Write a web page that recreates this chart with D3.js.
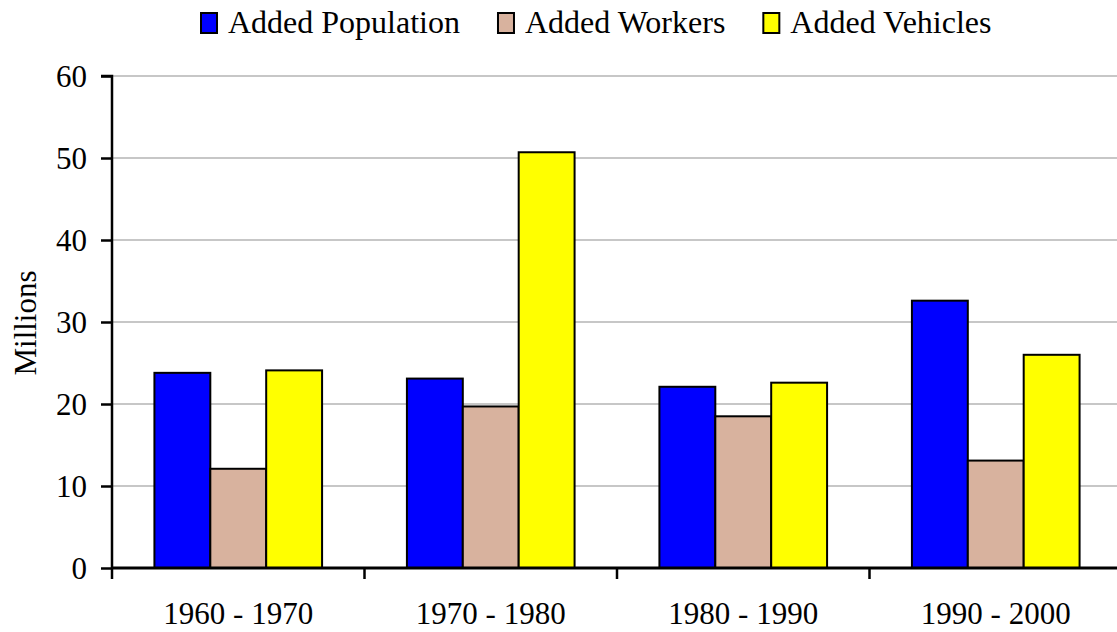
<!DOCTYPE html>
<html>
<head>
<meta charset="utf-8">
<script src="https://cdn.jsdelivr.net/npm/d3@7"></script>
<style>
  body { margin: 0; background: #fff; }
  text { font-family: "Liberation Serif", "Times New Roman", serif; fill: #000; }
</style>
</head>
<body>
<svg width="1117" height="632"></svg>
<script>
(function(d3) {
    "use strict";

    var categories = ["1960 - 1970", "1970 - 1980", "1980 - 1990", "1990 - 2000"],
        seriesNames = ["Added Population", "Added Workers", "Added Vehicles"],
        seriesColors = ["#0000ff", "#d8b29e", "#ffff00"],
        population = [23.8, 23.1, 22.1, 32.6],
        workers = [12.1, 19.7, 18.5, 13.1],
        vehicles = [24.1, 50.7, 22.6, 26.0],
        yTicks = [0, 10, 20, 30, 40, 50, 60],
        values = [population, workers, vehicles];

    var svg = d3.select("svg"),
        left = 112,
        right = 1122,
        top = 76,
        bottom = 568,
        fontSize = "31px";

    var x = d3.scaleBand().domain(categories).range([left, right]),
        xs = d3.scaleBand().domain(d3.range(seriesNames.length))
            .range([x.bandwidth() * 0.168, x.bandwidth() * 0.832]),
        y = d3.scaleLinear().domain([0, 60]).range([bottom, top]);

    // gridlines
    svg.append("g").selectAll("line")
        .data(yTicks.filter(function(d) { return d > 0; }))
        .enter().append("line")
        .attr("x1", left).attr("x2", 1117)
        .attr("y1", function(d) { return y(d); })
        .attr("y2", function(d) { return y(d); })
        .attr("stroke", "#8f8f8f").attr("stroke-width", 1);

    // bars
    var groups = svg.append("g").selectAll("g")
        .data(categories)
        .enter().append("g")
        .attr("transform", function(d) { return "translate(" + x(d) + ",0)"; });

    groups.selectAll("rect")
        .data(function(d, i) {
            return values.map(function(s, j) { return { s: j, v: s[i] }; });
        })
        .enter().append("rect")
        .attr("x", function(d) { return xs(d.s); })
        .attr("width", xs.bandwidth())
        .attr("y", function(d) { return y(d.v); })
        .attr("height", function(d) { return y(0) - y(d.v); })
        .attr("fill", function(d) { return seriesColors[d.s]; })
        .attr("stroke", "#000").attr("stroke-width", 2);

    // y axis
    var yAxis = svg.append("g")
        .attr("transform", "translate(" + left + ",0)")
        .call(d3.axisLeft(y).tickValues(yTicks).tickSize(11).tickPadding(14));
    yAxis.select(".domain").attr("stroke-width", 2.5).attr("d", "M0," + bottom + "V" + top + "H-11");
    yAxis.selectAll(".tick line").attr("stroke-width", 2.5);
    yAxis.selectAll("text")
        .attr("dy", "0.34em")
        .style("font-family", "Liberation Serif").style("font-size", fontSize);

    // x axis
    svg.append("line")
        .attr("x1", left).attr("x2", 1117)
        .attr("y1", bottom).attr("y2", bottom)
        .attr("stroke", "#000").attr("stroke-width", 3);
    svg.append("g").selectAll("line")
        .data(categories)
        .enter().append("line")
        .attr("x1", function(d) { return x(d); })
        .attr("x2", function(d) { return x(d); })
        .attr("y1", bottom).attr("y2", bottom + 11)
        .attr("stroke", "#000").attr("stroke-width", 2.5);
    svg.append("g").selectAll("text")
        .data(categories)
        .enter().append("text")
        .attr("x", function(d) { return x(d) + x.bandwidth() / 2; })
        .attr("y", 624)
        .attr("text-anchor", "middle")
        .style("font-size", fontSize)
        .text(function(d) { return d; });

    // y title
    svg.append("text")
        .attr("transform", "translate(36,323) rotate(-90)")
        .attr("text-anchor", "middle")
        .style("font-size", fontSize)
        .text("Millions");

    // legend
    var legend = svg.append("g"),
        lx = 201;
    seriesNames.forEach(function(name, i) {
        legend.append("rect")
            .attr("x", lx).attr("y", 13)
            .attr("width", 16).attr("height", 20)
            .attr("fill", seriesColors[i])
            .attr("stroke", "#000").attr("stroke-width", 2);
        var t = legend.append("text")
            .attr("x", lx + 27).attr("y", 33)
            .style("font-size", "32px")
            .text(name);
        lx += 27 + t.node().getComputedTextLength() + 38;
    });

}(d3));
</script>
</body>
</html>
